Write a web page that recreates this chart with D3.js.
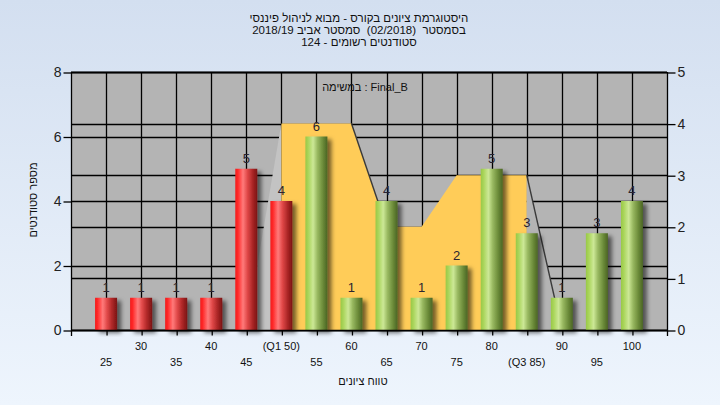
<!DOCTYPE html>
<html><head><meta charset="utf-8">
<script src="https://cdn.jsdelivr.net/npm/d3@7"></script>
<style>html,body{margin:0;padding:0;overflow:hidden;}svg{display:block;}text{white-space:pre;}</style>
</head><body>
<svg id="c" width="720" height="405"></svg>
<script>
// ---- data ----
const categories = [25,30,35,40,45,50,55,60,65,70,75,80,85,90,95,100];
const counts     = [1,1,1,1,5,4,6,1,4,1,2,5,3,1,3,4];
const tickLabels = ["25","30","35","40","45","(Q1 50)","55","60","65","70","75","80","(Q3 85)","90","95","100"];
const passMark = 55;
const Q1 = 50, Q3 = 85;
const areaX    = [45,50,55,60,65,70,75,80,85,90];
const areaVals = [0,4,4,4,2,2,3,3,3,0];
const leftTicks  = [0,2,4,6,8];
const rightTicks = [0,1,2,3,4,5];
const titleLines = ["היסטוגרמת ציונים בקורס - מבוא לניהול פיננסי",
                    "בסמסטר  (02/2018)  סמסטר אביב 2018/19",
                    "סטודנטים רשומים - 124"];
const legendText = "במשימה : Final_B";
const xTitle = "טווח ציונים";
const yTitle = "מספר סטודנטים";

const svg = d3.select("#c");
const FONT = "'Liberation Sans', Arial, 'DejaVu Sans', sans-serif";
const defs = svg.append("defs");

// background gradient
const bg = defs.append("linearGradient").attr("id","bg").attr("x1",0).attr("y1",0).attr("x2",0).attr("y2",1);
bg.append("stop").attr("offset","0%").attr("stop-color","#d3dff0");
bg.append("stop").attr("offset","100%").attr("stop-color","#eef5fd");
svg.append("rect").attr("width",720).attr("height",405).attr("fill","url(#bg)");

function cyl(id, stops){
  const g = defs.append("linearGradient").attr("id",id).attr("x1",0).attr("y1",0).attr("x2",1).attr("y2",0);
  stops.forEach(s=>g.append("stop").attr("offset",s[0]).attr("stop-color",s[1]));
}
cyl("red",[["0%","#f21818"],["12%","#ff2a2a"],["35%","#ff7a7a"],["55%","#e04848"],["80%","#a82424"],["100%","#7a1414"]]);
cyl("green",[["0%","#98c848"],["12%","#a8d458"],["35%","#cce896"],["55%","#98b860"],["80%","#6a8a38"],["100%","#4a6424"]]);

const f = defs.append("filter").attr("id","sh").attr("x","-30%").attr("y","-10%").attr("width","170%").attr("height","130%");
f.append("feDropShadow").attr("dx",4).attr("dy",3).attr("stdDeviation",2.2).attr("flood-color","#000").attr("flood-opacity",0.55);

// scales
const x  = d3.scaleLinear().domain([20,105]).range([71,667]);
const yL = d3.scaleLinear().domain([0,8]).range([330,72]);
const yR = d3.scaleLinear().domain([0,5]).range([330,72]);

// plot bg
svg.append("rect").attr("x",x(20)).attr("y",yL(8)).attr("width",x(105)-x(20)).attr("height",yL(0)-yL(8)).attr("fill","#b4b4b4");

// gridlines
const grid = svg.append("g").attr("stroke","#000").attr("stroke-width",1.3);
categories.forEach(c=>grid.append("line").attr("x1",Math.round(x(c))+0.5).attr("x2",Math.round(x(c))+0.5).attr("y1",yL(8)).attr("y2",yL(0)));
leftTicks.forEach(t=>grid.append("line").attr("x1",x(20)).attr("x2",x(105)).attr("y1",Math.round(yL(t))+0.5).attr("y2",Math.round(yL(t))+0.5));
rightTicks.forEach(t=>grid.append("line").attr("x1",x(20)).attr("x2",x(105)).attr("y1",Math.round(yR(t))+0.5).attr("y2",Math.round(yR(t))+0.5));

// area
const pts = areaX.map((v,i)=>[v,areaVals[i]]);
const area = d3.area().x(d=>x(d[0])).y0(yR(0)).y1(d=>yR(d[1]));
defs.append("clipPath").attr("id","cl").append("rect").attr("x",x(areaX[0])).attr("y",0).attr("width",x(Q1)-x(areaX[0])).attr("height",405);
defs.append("clipPath").attr("id","cm").append("rect").attr("x",x(Q1)).attr("y",0).attr("width",x(Q3)-x(Q1)).attr("height",405);
defs.append("clipPath").attr("id","cr").append("rect").attr("x",x(Q3)).attr("y",0).attr("width",x(areaX[areaX.length-1])-x(Q3)).attr("height",405);
svg.append("path").attr("d",area(pts)).attr("fill","#c3c3c3").attr("clip-path","url(#cl)");
svg.append("path").attr("d",area(pts)).attr("fill","#ffcc58").attr("clip-path","url(#cm)");
svg.append("path").attr("d",area(pts)).attr("fill","#b4b4b4").attr("clip-path","url(#cr)");
// dark edges on descending segments
for(let i=1;i<pts.length;i++){
  if(pts[i][1]<pts[i-1][1]){
    svg.append("line").attr("x1",x(pts[i-1][0])).attr("y1",yR(pts[i-1][1])).attr("x2",x(pts[i][0])).attr("y2",yR(pts[i][1]))
      .attr("stroke","#3a3a3a").attr("stroke-width",1.4);
  }
}

// bars
const bw = 22;
const bars = svg.append("g");
categories.forEach((c,i)=>{
  bars.append("rect").attr("x",x(c)-bw/2).attr("y",yL(counts[i])).attr("width",bw).attr("height",yL(0)-yL(counts[i]))
    .attr("fill", c<passMark ? "url(#red)" : "url(#green)").attr("filter","url(#sh)");
});
categories.forEach((c,i)=>{
  svg.append("text").attr("x",x(c)).attr("y",yL(counts[i])-6).attr("text-anchor","middle")
    .attr("font-family",FONT).attr("font-size",13).attr("fill","#2a2430").text(counts[i]);
});

// axes frame
const ax = svg.append("g").attr("stroke","#000").attr("stroke-width",1.3);
ax.append("line").attr("x1",x(20)).attr("x2",x(105)).attr("y1",yL(8)+0.5).attr("y2",yL(8)+0.5);
ax.append("line").attr("x1",x(20)).attr("x2",x(105)).attr("y1",yL(0)+0.5).attr("y2",yL(0)+0.5);
ax.append("line").attr("x1",x(20)+0.5).attr("x2",x(20)+0.5).attr("y1",yL(8)).attr("y2",yL(0)+6);
ax.append("line").attr("x1",x(105)+0.5).attr("x2",x(105)+0.5).attr("y1",yL(8)).attr("y2",yL(0)+6);

const leftAxis = d3.axisLeft(yL).tickValues(leftTicks).tickSize(8).tickPadding(2).tickFormat(d3.format("d"));
const gL = svg.append("g").attr("transform",`translate(${x(20)+0.5},0.5)`).call(leftAxis);
const rightAxis = d3.axisRight(yR).tickValues(rightTicks).tickSize(8).tickPadding(2).tickFormat(d3.format("d"));
const gR = svg.append("g").attr("transform",`translate(${x(105)+0.5},0.5)`).call(rightAxis);
const bottomAxis = d3.axisBottom(x).tickValues(categories).tickSize(5).tickFormat("");
const gB = svg.append("g").attr("transform",`translate(0.5,${yL(0)+0.5})`).call(bottomAxis);
[gL,gR,gB].forEach(g=>{
  g.select(".domain").remove();
  g.selectAll(".tick line").attr("stroke","#000").attr("stroke-width",1.3);
  g.selectAll("text").attr("font-family",FONT).attr("font-size",14).attr("fill","#222");
});

// x tick labels, staggered
categories.forEach((c,i)=>{
  svg.append("text").attr("x",x(c)).attr("y", i%2===1 ? 349.5 : 366)
    .attr("text-anchor","middle").attr("font-family",FONT).attr("font-size",11).attr("fill","#111").text(tickLabels[i]);
});

// titles
titleLines.forEach((t,i)=>{
  svg.append("text").attr("x",359).attr("y",[21.5,34,46][i]).attr("text-anchor","middle")
    .attr("font-family",FONT).attr("font-size",11.5).attr("fill","#111").text(t);
});
svg.append("text").attr("x",365).attr("y",90.5).attr("text-anchor","middle")
  .attr("font-family",FONT).attr("font-size",11).attr("fill","#111").text(legendText);
svg.append("text").attr("x",363).attr("y",385).attr("text-anchor","middle")
  .attr("font-family",FONT).attr("font-size",11).attr("fill","#111").text(xTitle);
svg.append("text").attr("transform","translate(37,200) rotate(-90)").attr("text-anchor","middle")
  .attr("font-family",FONT).attr("font-size",11).attr("fill","#111").text(yTitle);
</script>
</body></html>
